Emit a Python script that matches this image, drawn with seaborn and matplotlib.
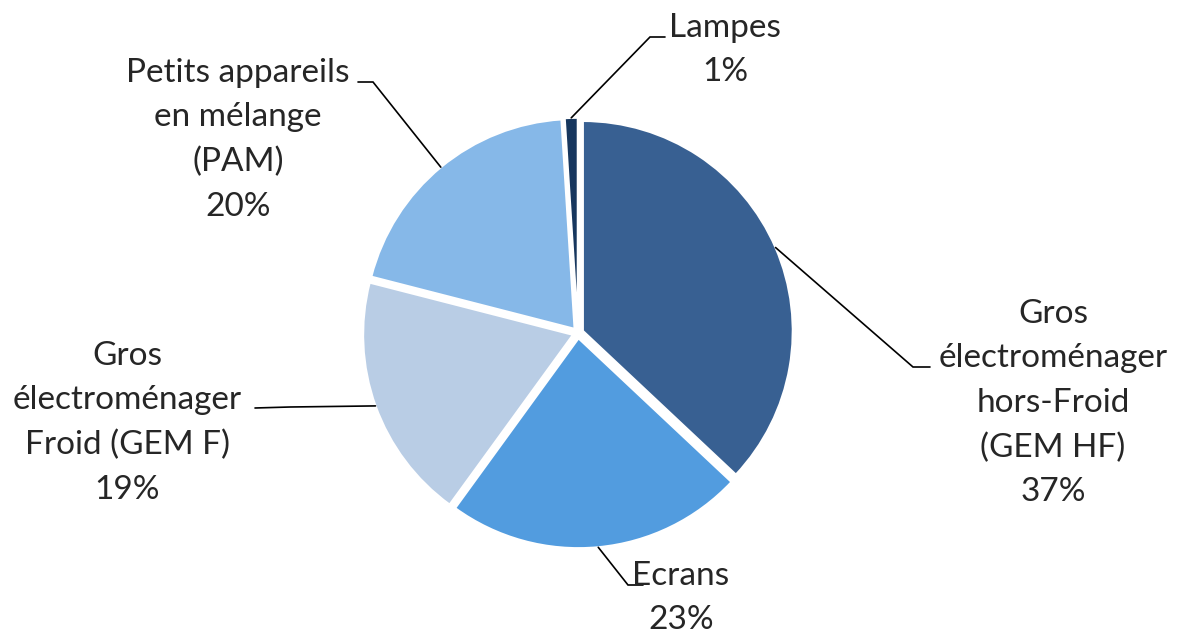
import matplotlib
matplotlib.use("Agg")
import matplotlib.pyplot as plt
import seaborn as sns
import numpy as np

# ---- data ----
categories = ["Gros\nélectroménager\nhors-Froid\n(GEM HF)", "Ecrans",
              "Gros\nélectroménager\nFroid (GEM F)",
              "Petits appareils\nen mélange\n(PAM)", "Lampes"]
values = [37, 23, 19, 20, 1]
colors = ["#386092", "#529CDF", "#B9CDE5", "#86B8E8", "#17375E"]

sns.set_theme(style="white")
plt.rcParams["font.family"] = ["Lato", "DejaVu Sans"]

W, H = 1188, 633
R_PX = 210.0
CX, CY = 578.0, 333.0

fig = plt.figure(figsize=(W / 100, H / 100), dpi=100)
ax = fig.add_axes([0, 0, 1, 1])


def P(x, y):
    return ((x - CX) / R_PX, (CY - y) / R_PX)


explode = [0.025] * len(values)
wedges, _ = ax.pie(values, colors=colors, startangle=90, counterclock=False,
                   radius=1.0, center=(0, 0), explode=explode,
                   wedgeprops=dict(edgecolor="white", linewidth=1.6))
ax.set_xlim(-CX / R_PX, (W - CX) / R_PX)
ax.set_ylim(-(H - CY) / R_PX, CY / R_PX)
ax.set_aspect("equal")
ax.axis("off")

# label layout: (text center px, elbow px, end px)
layout = [
    ((1053, 403), (913, 367), (930, 367)),
    ((681, 598), (628, 585), (643, 585)),
    ((127, 423), (290, 407), (255, 408)),
    ((238, 140), (373, 82), (358, 82)),
    ((725, 50), (650, 37), (665, 37)),
]

for w, cat, v, (tc, el, en) in zip(wedges, categories, values, layout):
    th = np.deg2rad((w.theta1 + w.theta2) / 2)
    cx, cy = w.center
    sx, sy = cx + w.r * np.cos(th), cy + w.r * np.sin(th)
    ex, ey = P(*el)
    nx, ny = P(*en)
    ax.plot([sx, ex, nx], [sy, ey, ny], color="black", lw=1.2,
            solid_joinstyle="miter")
    tx, ty = P(*tc)
    ax.text(tx, ty, f"{cat}\n{v}%", ha="center", va="center",
            fontsize=24, color="#262626", linespacing=1.6)

fig.savefig("out.png", dpi=100, facecolor="white")
